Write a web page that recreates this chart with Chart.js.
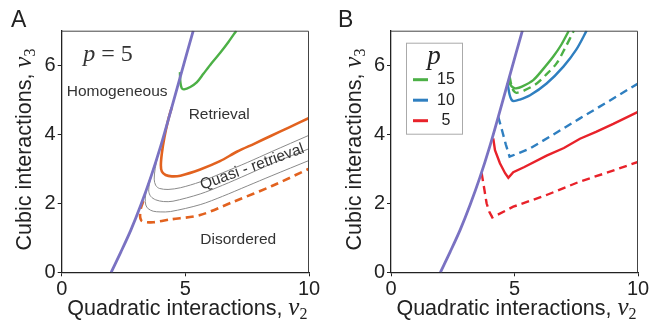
<!DOCTYPE html>
<html>
<head>
<meta charset="utf-8">
<script src="https://cdn.jsdelivr.net/npm/chart.js@4.4.1/dist/chart.umd.min.js"></script>
<style>
  body { margin: 0; background: #fff; }
  .panel { position: absolute; top: 0; }
</style>
</head>
<body>
<div class="panel" style="left:0px"><canvas id="chartA" width="331" height="324"></canvas></div>
<div class="panel" style="left:330px"><canvas id="chartB" width="333" height="324"></canvas></div>
<script>
// ticks
const v2Ticks = [0, 5, 10];
const v3Ticks = [0, 2, 4, 6];

// borde homogéneo (morado), igual en los dos paneles
const edgeV2 = [2.0, 2.4, 2.8, 3.2, 3.6, 4.0, 4.4, 4.8, 5.32];
const edgeV3 = [0, 0.6, 1.23, 1.95, 2.75, 3.65, 4.65, 5.68, 7.0];

// Panel A, p = 5
const greenAV2 = [4.78, 4.8, 4.85, 4.95, 5.2, 5.46, 5.73, 6.05, 6.41, 6.75, 7.06];
const greenAV3 = [5.8, 5.5, 5.34, 5.3, 5.37, 5.5, 5.75, 6.05, 6.36, 6.68, 7.0];
const orangeAV2 = [4.45, 4.3, 4.15, 4.05, 4.01, 4.05, 4.2, 4.45, 4.8, 5.6, 6.4, 7.1, 7.8, 8.45, 9.2, 10];
const orangeAV3 = [4.78, 4.4, 3.9, 3.45, 3.1, 2.92, 2.82, 2.78, 2.8, 2.98, 3.22, 3.5, 3.73, 3.95, 4.2, 4.47];
const grayTopV2 = [4.02, 3.88, 3.78, 3.74, 3.8, 3.95, 4.3, 4.8, 5.6, 6.5, 7.5, 8.5, 10];
const grayTopV3 = [3.7, 3.35, 3.0, 2.7, 2.52, 2.43, 2.4, 2.45, 2.62, 2.88, 3.18, 3.5, 3.97];
const grayMidV2 = [3.85, 3.68, 3.56, 3.52, 3.6, 3.8, 4.11, 4.5, 5.6, 6.5, 7.5, 8.5, 10];
const grayMidV3 = [3.3, 2.95, 2.6, 2.35, 2.2, 2.1, 2.05, 2.06, 2.27, 2.52, 2.83, 3.15, 3.58];
const grayLowV2 = [3.62, 3.45, 3.38, 3.4, 3.5, 3.7, 3.98, 4.4, 5.6, 6.5, 7.5, 8.5, 10];
const grayLowV3 = [2.82, 2.45, 2.15, 1.95, 1.84, 1.77, 1.75, 1.76, 1.96, 2.2, 2.5, 2.8, 3.24];
const orangeDashV2 = [3.3, 3.2, 3.17, 3.22, 3.35, 3.71, 4.38, 5.6, 7.0, 8.5, 10];
const orangeDashV3 = [2.06, 1.85, 1.62, 1.5, 1.46, 1.45, 1.53, 1.66, 2.06, 2.5, 3.0];

// Panel B, p = 15 / 10 / 5
const pLabels = ['15', '10', '5'];
const green15V2 = [4.75, 4.85, 4.95, 5.06, 5.3, 5.76, 6.15, 6.57, 6.9, 7.2];
const green15V3 = [5.57, 5.42, 5.35, 5.33, 5.38, 5.57, 5.88, 6.25, 6.6, 7.0];
const green15DashV2 = [4.8, 4.9, 5.0, 5.09, 5.4, 5.9, 6.3, 6.71, 7.05, 7.4];
const green15DashV3 = [5.68, 5.35, 5.23, 5.2, 5.27, 5.47, 5.74, 6.06, 6.5, 7.0];
const blue10V2 = [4.72, 4.8, 4.88, 4.97, 5.2, 5.63, 6.3, 6.98, 7.5, 7.92];
const blue10V3 = [5.48, 5.15, 5.0, 4.96, 5.0, 5.13, 5.47, 5.96, 6.45, 7.0];
const blue10DashV2 = [4.34, 4.5, 4.65, 4.8, 5.2, 5.63, 6.5, 7.65, 8.8, 10];
const blue10DashV3 = [4.51, 4.1, 3.7, 3.35, 3.46, 3.59, 3.96, 4.46, 4.95, 5.47];
const red5V2 = [4.14, 4.21, 4.41, 4.62, 4.75, 4.95, 5.4, 6.3, 7.0, 7.65, 8.3, 9.0, 10];
const red5V3 = [3.88, 3.54, 3.16, 2.87, 2.74, 2.9, 3.05, 3.38, 3.6, 3.87, 4.07, 4.3, 4.65];
const red5DashV2 = [3.67, 3.78, 3.87, 3.98, 4.1, 4.95, 6.3, 7.65, 8.8, 10];
const red5DashV3 = [2.87, 2.4, 2.0, 1.75, 1.59, 1.9, 2.24, 2.63, 2.9, 3.2];

const PURPLE = '#7a72c2', GREEN = '#4cb046', ORANGE = '#e2621f',
      BLUE = '#2f7fc0', RED = '#e8222a', GRAY = '#8a8a8a', INK = '#222';
const SANS = '"Liberation Sans", Arial, Helvetica, sans-serif';
const SERIF = '"Liberation Serif", "Times New Roman", serif';

function pts(xs, ys) {
    return xs.map((x, i) => ({ x: x, y: ys[i] }));
}

function linea(xs, ys, color, width, dashed, tension) {
    return {
        data: pts(xs, ys),
        showLine: true,
        borderColor: color,
        borderWidth: width,
        borderDash: dashed ? [8, 5] : [],
        tension: tension,
        pointRadius: 0,
        fill: false
    };
}

// dibuja texto compuesto (normal + cursiva + subíndice), centrado en x
function drawRuns(ctx, runs, x, y) {
    let total = 0;
    runs.forEach(r => { ctx.font = r.font; total += ctx.measureText(r.text).width; });
    let cx = x - total / 2;
    runs.forEach(r => {
        ctx.font = r.font;
        ctx.fillText(r.text, cx, y + (r.dy || 0));
        cx += ctx.measureText(r.text).width;
    });
}

// marco, títulos de ejes, letra del panel y extras
function framePlugin(letter, letterX, extras) {
    return {
        id: 'frame',
        afterDraw(chart) {
            const ctx = chart.ctx, a = chart.chartArea;
            ctx.save();
            ctx.strokeStyle = '#444';
            ctx.lineWidth = 1;
            ctx.beginPath();
            ctx.moveTo(a.left, a.top + 0.5);
            ctx.lineTo(a.right - 0.5, a.top + 0.5);
            ctx.lineTo(a.right - 0.5, a.bottom);
            ctx.stroke();

            ctx.fillStyle = INK;
            ctx.textBaseline = 'alphabetic';
            ctx.textAlign = 'left';
            // eje x
            drawRuns(ctx, [
                { text: 'Quadratic interactions, ', font: '21.5px ' + SANS },
                { text: 'v', font: 'italic 25px ' + SERIF },
                { text: '2', font: '16px ' + SERIF, dy: 4 }
            ], (a.left + a.right) / 2 + 2, 315);
            // eje y
            ctx.save();
            ctx.translate(31, (a.top + a.bottom) / 2 - 2);
            ctx.rotate(-Math.PI / 2);
            drawRuns(ctx, [
                { text: 'Cubic interactions, ', font: '21.5px ' + SANS },
                { text: 'v', font: 'italic 25px ' + SERIF },
                { text: '3', font: '16px ' + SERIF, dy: 4 }
            ], 0, 0);
            ctx.restore();
            // letra del panel
            ctx.font = '23px ' + SANS;
            ctx.fillText(letter, letterX, 27);

            if (extras) extras(chart, ctx);
            ctx.restore();
        }
    };
}

function makeChart(id, datasets, padRight, yWidth, plugin) {
    const tickFont = { family: SANS, size: 20 };
    return new Chart(document.getElementById(id), {
        type: 'scatter',
        data: { datasets: datasets },
        options: {
            responsive: false,
            animation: false,
            layout: { padding: { left: 0, right: padRight, top: 30.7, bottom: 0 } },
            plugins: { legend: { display: false }, tooltip: { enabled: false } },
            scales: {
                x: {
                    type: 'linear', min: 0, max: 10,
                    afterBuildTicks: s => { s.ticks = v2Ticks.map(v => ({ value: v })); },
                    afterFit: s => { s.height = 51.7; },
                    ticks: { font: tickFont, color: INK, padding: 1, maxRotation: 0, autoSkip: false },
                    grid: { drawOnChartArea: false, drawTicks: true, tickLength: 4, color: INK },
                    border: { color: INK, width: 1.3 }
                },
                y: {
                    type: 'linear', min: 0, max: 7,
                    afterBuildTicks: s => { s.ticks = v3Ticks.map(v => ({ value: v })); },
                    afterFit: s => { s.width = yWidth; },
                    ticks: { font: tickFont, color: INK, padding: 2 },
                    grid: { drawOnChartArea: false, drawTicks: true, tickLength: 4, color: INK },
                    border: { color: INK, width: 1.3 }
                }
            }
        },
        plugins: [plugin]
    });
}

// Panel A
function textosA(chart, ctx) {
    const sx = chart.scales.x, sy = chart.scales.y;
    const at = (x, y) => [sx.getPixelForValue(x), sy.getPixelForValue(y)];
    ctx.textBaseline = 'middle';
    ctx.fillStyle = '#333';
    let [px, py] = at(1.87, 6.3);
    drawRuns(ctx, [
        { text: 'p', font: 'italic 24px ' + SERIF },
        { text: ' = 5', font: '24px ' + SERIF }
    ], px, py);
    ctx.textAlign = 'center';
    ctx.font = '15.5px ' + SANS;
    [px, py] = at(2.24, 5.23); ctx.fillText('Homogeneous', px, py);
    [px, py] = at(6.37, 4.56); ctx.fillText('Retrieval', px, py);
    [px, py] = at(7.14, 0.94); ctx.fillText('Disordered', px, py);
    [px, py] = at(7.7, 3.05);
    ctx.save();
    ctx.translate(px, py);
    ctx.rotate(-20 * Math.PI / 180);
    ctx.fillText('Quasi - retrieval', 0, 0);
    ctx.restore();
}

makeChart('chartA', [
    linea(edgeV2, edgeV3, PURPLE, 2.8, false, 0.3),
    linea(greenAV2, greenAV3, GREEN, 2.4, false, 0.3),
    linea(orangeAV2, orangeAV3, ORANGE, 2.6, false, 0.3),
    linea(grayTopV2, grayTopV3, GRAY, 1, false, 0.3),
    linea(grayMidV2, grayMidV3, GRAY, 1, false, 0.3),
    linea(grayLowV2, grayLowV3, GRAY, 1, false, 0.3),
    linea(orangeDashV2, orangeDashV3, ORANGE, 2.6, true, 0.3)
], 22, 61.7, framePlugin('A', 11, textosA));

// Panel B
const legendColors = [GREEN, BLUE, RED];
function leyendaB(chart, ctx) {
    const a = chart.chartArea;
    const bx = a.left + 15, by = a.top + 12, bw = 56, bh = 91;
    ctx.fillStyle = '#fff';
    ctx.fillRect(bx, by, bw, bh);
    ctx.strokeStyle = '#aaa';
    ctx.lineWidth = 1;
    ctx.strokeRect(bx + 0.5, by + 0.5, bw, bh);
    ctx.fillStyle = INK;
    ctx.textAlign = 'center';
    ctx.textBaseline = 'alphabetic';
    ctx.font = 'italic 27px ' + SERIF;
    ctx.fillText('p', bx + bw / 2, by + 21);
    ctx.textBaseline = 'middle';
    ctx.font = '16px ' + SANS;
    pLabels.forEach((lab, i) => {
        const y = by + 37 + i * 20.5;
        ctx.strokeStyle = legendColors[i];
        ctx.lineWidth = 3;
        ctx.beginPath();
        ctx.moveTo(bx + 7, y);
        ctx.lineTo(bx + 22, y);
        ctx.stroke();
        ctx.fillStyle = INK;
        ctx.fillText(lab, bx + 40, y);
    });
}

makeChart('chartB', [
    linea(edgeV2, edgeV3, PURPLE, 2.8, false, 0.3),
    linea(green15V2, green15V3, GREEN, 2.4, false, 0.3),
    linea(green15DashV2, green15DashV3, GREEN, 2.4, true, 0.3),
    linea(blue10V2, blue10V3, BLUE, 2.4, false, 0.3),
    linea(blue10DashV2, blue10DashV3, BLUE, 2.4, true, 0),
    linea(red5V2, red5V3, RED, 2.4, false, 0),
    linea(red5DashV2, red5DashV3, RED, 2.4, true, 0)
], 25, 61, framePlugin('B', 8, leyendaB));
</script>
</body>
</html>
